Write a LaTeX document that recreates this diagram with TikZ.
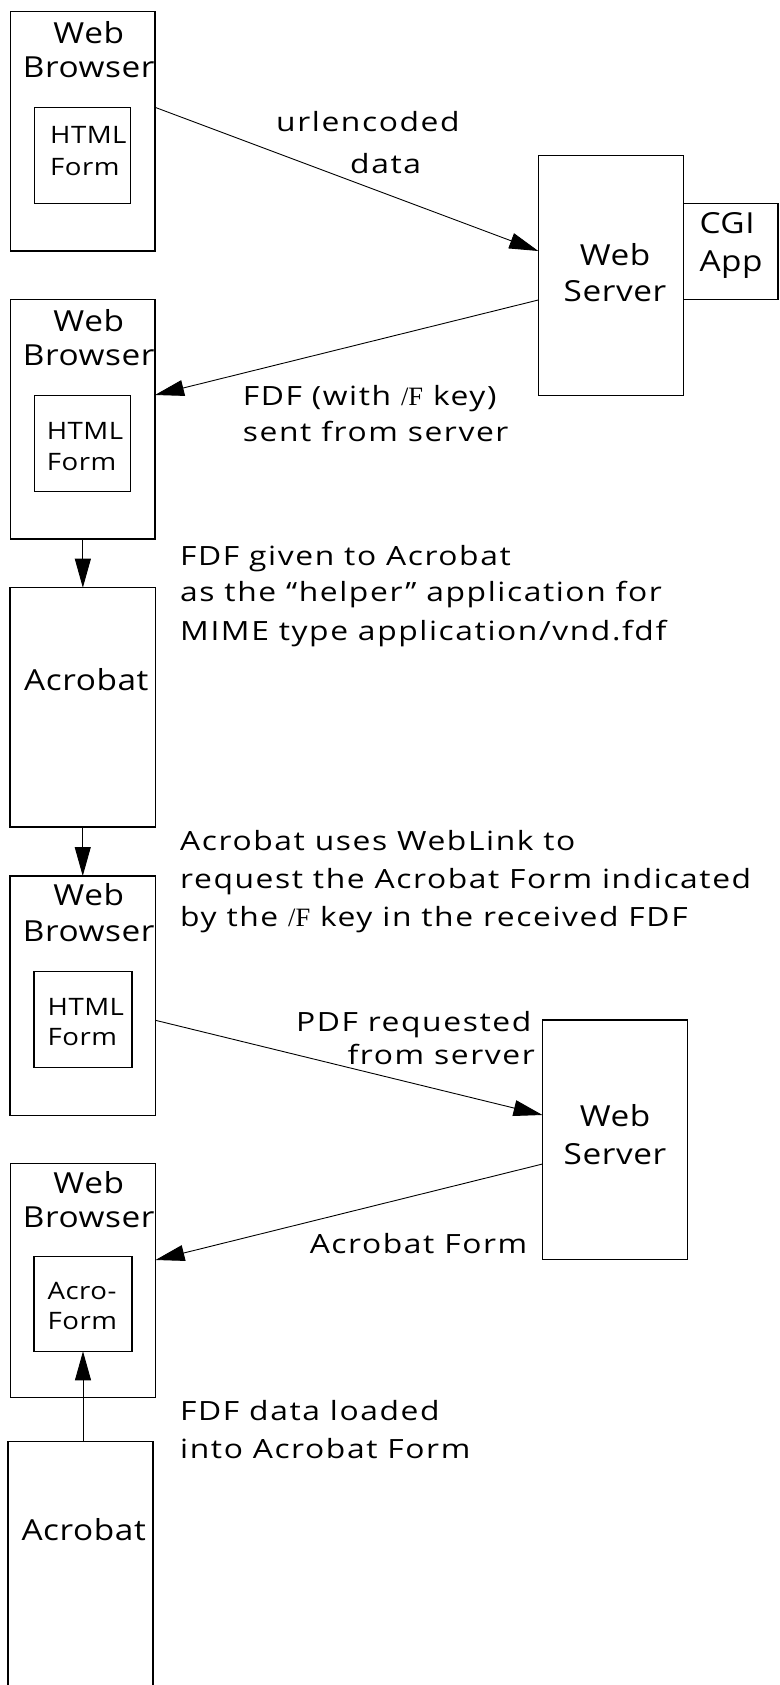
\documentclass[tikz,border=0pt]{standalone}
\usepackage{fontspec}
\setmainfont{Open Sans}
\newfontfamily\serifF{Liberation Serif}
\newfontfamily\lblfont[FakeStretch=1.2,LetterSpace=6]{Open Sans}
\newfontfamily\boxfont[FakeStretch=1.15,LetterSpace=2]{Open Sans}
\usetikzlibrary{arrows.meta,calc}
\begin{document}
\begin{tikzpicture}[x=1pt,y=-1pt,
  frame/.style n args={2}{draw,line width=1.1pt,inner sep=0pt,outer sep=0pt,anchor=north west,minimum width=#1pt,minimum height=#2pt},
  arr/.style={-{Triangle[length=29pt,width=16pt]},line width=0.9pt},
  boxtxt/.style={font=\boxfont\fontsize{29}{29}\selectfont,inner sep=0pt,anchor=base},
  formtxt/.style={font=\boxfont\fontsize{24}{24}\selectfont,inner sep=0pt,anchor=base west},
  lbl/.style={font=\lblfont\fontsize{26.5}{26.5}\selectfont,inner sep=0pt,anchor=base west},
  lblr/.style={font=\lblfont\fontsize{26.5}{26.5}\selectfont,inner sep=0pt,anchor=base east}]
\clip (0,0) rectangle (779,1685);
\fill[white] (0,0) rectangle (779,1685);
% boxes
\node[frame={144.3}{239.3}] (b1) at (10.7,11.7) {};
\node[frame={96}{96}] (f1) at (34.7,107.3) {};
\node[frame={144.3}{239.7}] (b2) at (10.7,299.3) {};
\node[frame={96}{96.4}] (f2) at (34.7,395.3) {};
\node[frame={145.5}{239.3}] (a1) at (10,587.7) {};
\node[frame={145.5}{239.7}] (b3) at (10,876) {};
\node[frame={98}{96}] (f3) at (34,971.7) {};
\node[frame={145}{234.4}] (b4) at (10.5,1163.3) {};
\node[frame={98}{94.6}] (f4) at (34,1256.7) {};
\node[frame={145}{300}] (a2) at (8,1441.7) {};
\node[frame={145}{240}] (ws1) at (538.3,155.7) {};
\node[frame={94.7}{96}] (cgi) at (683.3,203.3) {};
\node[frame={145}{239.3}] (ws2) at (542.5,1020) {};
% box texts
\node[boxtxt] (t1a) at (88.7,43.3) {Web};
\node[boxtxt] (t1b) at (88.7,77.7) {Browser};
\node[formtxt] (t1c) at (50,144) {HTML};
\node[formtxt] (t1d) at (50,176) {Form};
\node[boxtxt] (t2a) at (88.7,331.7) {Web};
\node[boxtxt] (t2b) at (88.7,365) {Browser};
\node[formtxt] (t2c) at (46.7,439.3) {HTML};
\node[formtxt] (t2d) at (46.7,470) {Form};
\node[boxtxt] (t3) at (86.3,690) {Acrobat};
\node[boxtxt] (t4a) at (88.7,905) {Web};
\node[boxtxt] (t4b) at (88.7,941) {Browser};
\node[formtxt] (t4c) at (47.5,1015) {HTML};
\node[formtxt] (t4d) at (47.5,1045) {Form};
\node[boxtxt] (t5a) at (88.7,1193.3) {Web};
\node[boxtxt] (t5b) at (88.7,1227.7) {Browser};
\node[formtxt] (t5c) at (47.5,1299) {Acro-};
\node[formtxt] (t5d) at (47.5,1329) {Form};
\node[boxtxt] (t6) at (83.7,1540.7) {Acrobat};
\node[boxtxt] (t7a) at (615,266) {Web};
\node[boxtxt] (t7b) at (615,301.7) {Server};
\node[boxtxt,anchor=base west] (t8a) at (699.3,234) {CGI};
\node[boxtxt,anchor=base west] (t8b) at (699.3,271.7) {App};
\node[boxtxt] (t9a) at (615,1126.7) {Web};
\node[boxtxt] (t9b) at (615,1164) {Server};
% labels
\node[lbl] (l1a) at (276,131.7) {urlencoded};
\node[lbl] (l1b) at (350,173.3) {data};
\node[lbl] (l2a) at (242.7,405) {FDF (with {\serifF /F} key)};
\node[lbl] (l2b) at (242.7,441.7) {sent from server};
\node[lbl] (l3a) at (180,565) {FDF given to Acrobat};
\node[lbl] (l3b) at (180,601.7) {as the “helper” application for};
\node[lbl] (l3c) at (180,640) {MIME type application/vnd.fdf};
\node[lbl] (l4a) at (180,850) {Acrobat uses WebLink to};
\node[lbl] (l4b) at (180,888.3) {request the Acrobat Form indicated};
\node[lbl] (l4c) at (180,926.7) {by the {\serifF /F} key in the received FDF};
\node[lblr] (l5a) at (531.5,1031) {PDF requested};
\node[lblr] (l5b) at (535,1064) {from server};
\node[lblr] (l6) at (527.5,1253.3) {Acrobat Form};
\node[lbl] (l7a) at (180,1420.7) {FDF data loaded};
\node[lbl] (l7b) at (180,1458.3) {into Acrobat Form};
% connectors
\draw[arr] ([yshift=-95.6pt]b1.north east) -- ([yshift=-95.3pt]ws1.north west);
\draw[arr] ([yshift=-144.3pt]ws1.north west) -- ([yshift=-95.7pt]b2.north east);
\draw[arr] (b2.south) -- (b2.south |- a1.north);
\draw[arr] (a1.south) -- (a1.south |- b3.north);
\draw[arr] ([yshift=-144.3pt]b3.north east) -- ([yshift=-95pt]ws2.north west);
\draw[arr] ([yshift=-144pt]ws2.north west) -- ([yshift=-96.7pt]b4.north east);
\draw[arr] (f4.south |- a2.north) -- (f4.south);
\end{tikzpicture}
\end{document}
